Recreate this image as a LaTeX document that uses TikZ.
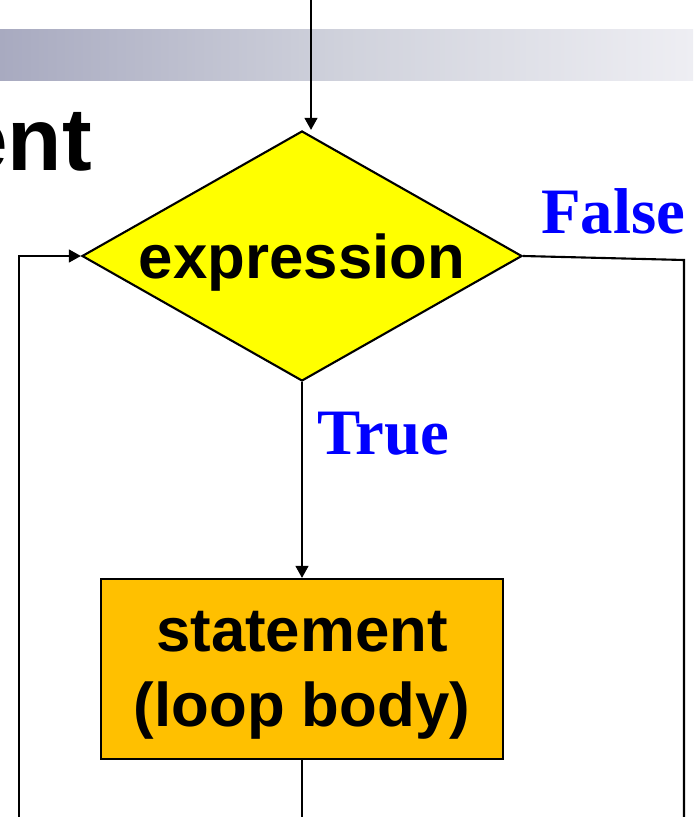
\documentclass[tikz,border=0pt]{standalone}
\usepackage{fontspec}
\setmainfont{Liberation Serif}
\setsansfont{Liberation Sans}
\usetikzlibrary{shapes.geometric,arrows.meta}
\definecolor{loopyellow}{RGB}{255,255,0}
\definecolor{loopgold}{RGB}{255,192,0}
\definecolor{bandleft}{RGB}{168,170,192}
\definecolor{bandmid}{RGB}{208,210,220}
\definecolor{bandright}{RGB}{238,238,243}
\begin{document}
\begin{tikzpicture}[x=0.03cm,y=-0.03cm,line width=1.8pt,>={Triangle[length=0.36cm,width=0.38cm]},
 test/.style={diamond,draw,fill=loopyellow,aspect=1.76,minimum width=13.2cm,minimum height=7.5cm,inner sep=0pt,text depth=0pt,font=\sffamily\bfseries\fontsize{52.7}{60}\selectfont},
 body/.style={draw,fill=loopgold,minimum width=12.06cm,minimum height=5.4cm,inner sep=0pt,align=center,text depth=0pt,font=\sffamily\bfseries\fontsize{52.7}{64}\selectfont},
 answer/.style={text=blue,font=\rmfamily\bfseries\fontsize{55.3}{60}\selectfont,inner sep=0pt,anchor=base west}]
\useasboundingbox (0,0) rectangle (693,817);
\clip (0,0) rectangle (693,817);
\shade[left color=bandleft,right color=bandright,middle color=bandmid] (0,30) rectangle (693,81);
\node[anchor=base east,inner sep=0pt,font=\sffamily\bfseries\fontsize{76}{80}\selectfont] (title) at (93,170) {ent};
\node[test] (cond) at (302,256) {expression};
\node[body] (body) at (302,669) {statement\\(loop body)};
\node[answer] (true) at (316,454) {True};
\node[answer] (false) at (540,233) {False};
\coordinate (in) at (311,0);
\coordinate (back) at (19,817);
\coordinate (out) at (684,817);
\coordinate (exit) at (684,260);
\coordinate (next) at (302,817);
\draw[->] (in) -- (in |- cond.north);
\draw[->] (cond.south) -- (body.north);
\draw (body.south) -- (next);
\draw[->] (back) |- (cond.west);
\draw (cond.east) -- (exit) -- (out);
\end{tikzpicture}
\end{document}
